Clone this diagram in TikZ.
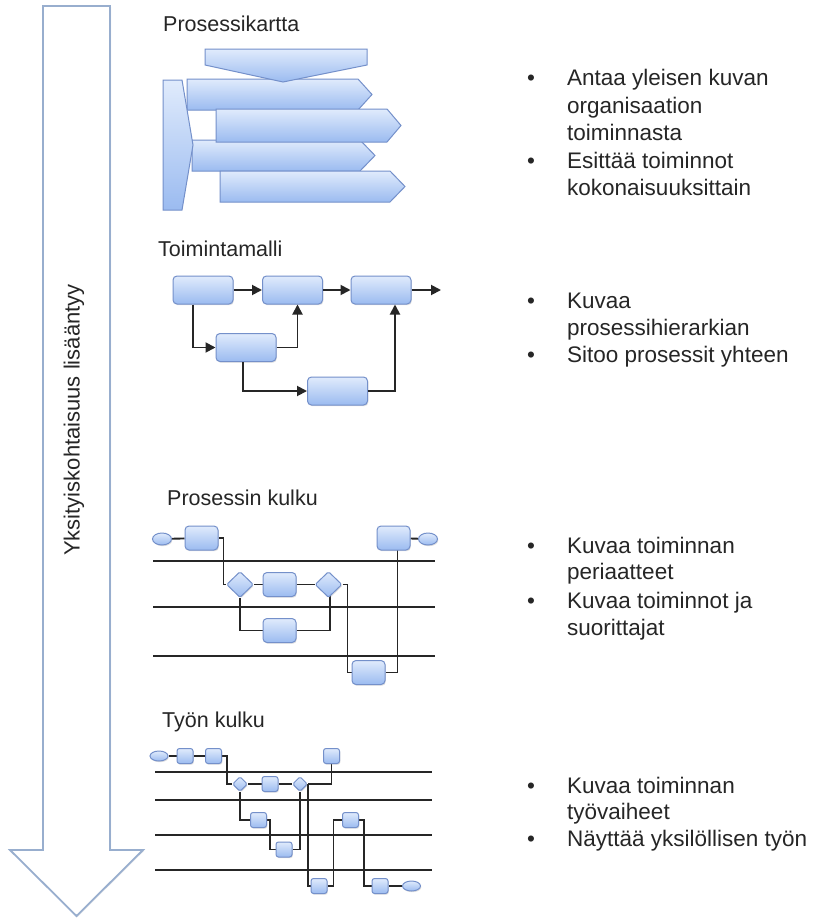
\documentclass[tikz,border=0pt]{standalone}
\usepackage{fontspec}
\setmainfont{Liberation Sans}
\usetikzlibrary{arrows.meta,positioning,shapes.geometric,backgrounds,shadows}
\definecolor{boxtop}{RGB}{224,235,252}
\definecolor{boxbot}{RGB}{155,187,240}
\definecolor{boxline}{RGB}{116,144,202}
\definecolor{arrline}{RGB}{152,174,206}
\definecolor{txt}{RGB}{38,38,38}

\begin{document}
\begin{tikzpicture}[x=1pt,y=-1pt,>={Triangle[length=10pt,width=10pt]}, every node/.style={font=\fontsize{22.5}{27}\selectfont,text=txt}]
\tikzstyle{box}=[draw=boxline,line width=1pt,top color=boxtop,bottom color=boxbot,rounded corners=4pt,inner sep=0pt,drop shadow={opacity=0.25,shadow xshift=0.8pt,shadow yshift=-1.2pt}]
\tikzstyle{bigbox}=[box,minimum width=60,minimum height=28]
\tikzstyle{midbox}=[box,minimum width=33,minimum height=24]
\tikzstyle{smallbox}=[box,rounded corners=2.5pt,minimum width=16,minimum height=15]
\tikzstyle{gate}=[box,diamond,rounded corners=1.5pt,minimum width=27,minimum height=26]
\tikzstyle{smallgate}=[gate,minimum width=15,minimum height=15]
\tikzstyle{term}=[box,ellipse,minimum width=19,minimum height=12]
\tikzstyle{smallterm}=[term,minimum width=18,minimum height=10]
\tikzstyle{tile}=[draw=boxline,line width=1pt,top color=boxtop,bottom color=boxbot]
\tikzstyle{wire}=[draw=black!85,line width=1.9pt]
\tikzstyle{lane}=[draw=black!85,line width=1.7pt]
\tikzstyle{title}=[anchor=base west,inner sep=0pt,font=\fontsize{21.5}{26}\selectfont]
\tikzstyle{bul}=[anchor=base west,inner sep=0pt]
\tikzstyle{bulletdot}=[anchor=base,inner sep=0pt]

\begin{scope}[on background layer]
\fill[white] (0,0) rectangle (821,918);
\end{scope}
\useasboundingbox (0,0) rectangle (821,918);

% arrow on the left
\draw[draw=arrline,line width=1.8pt,fill=white,drop shadow={opacity=0.15,shadow xshift=1pt,shadow yshift=-1pt}]
  (43,6) -- (110,6) -- (110,850) -- (143,850) -- (76.5,916) -- (10,850) -- (43,850) -- cycle;
\node[rotate=90,font=\fontsize{22}{26}\selectfont] (lbl) at (74,420) {Yksityiskohtaisuus lisääntyy};

% Prosessikartta
\node[title] (t1) at (163,31) {Prosessikartta};
\path[tile] (187,79) -- (358,79) -- (372,94.5) -- (358,110) -- (187,110) -- cycle;
\path[tile] (192,140) -- (360,140) -- (375,155.5) -- (360,171) -- (192,171) -- cycle;
\path[tile] (216,109) -- (387,109) -- (401,125.5) -- (387,142) -- (216,142) -- cycle;
\path[tile] (220,171) -- (390,171) -- (405,186.5) -- (390,202) -- (220,202) -- cycle;
\path[tile] (163,80) -- (182,80) -- (193,145) -- (182,210) -- (163,210) -- cycle;
\path[tile] (205,49) -- (367,49) -- (367,65) -- (283,82) -- (205,65) -- cycle;

% Toimintamalli
\node[title] (t2) at (158,256) {Toimintamalli};
\node[bigbox] (a) at (203,290) {};
\node[bigbox] (b) at (292.5,290) {};
\node[bigbox] (c) at (381,290) {};
\node[bigbox] (d) at (246,347.5) {};
\node[bigbox] (e) at (337.5,391) {};
\coordinate (out) at (441,290);
\draw[wire,->] (a) -- (b);
\draw[wire,->] (b) -- (c);
\draw[wire,->] (c) -- (out);
\draw[wire,->] ([xshift=-10]a.south) |- (d);
\draw[wire,->] (d) -| ([xshift=5]b.south);
\draw[wire,->] ([xshift=-3]d.south) |- (e);
\draw[wire,->] (e) -| ([xshift=14]c.south);

% Prosessin kulku
\node[title] (t3) at (167,505) {Prosessin kulku};
\node[term] (ps) at (162,539) {};
\node[midbox] (p1) at (201.5,538) {};
\node[midbox] (p5) at (393.5,538) {};
\node[term] (pe) at (428,539) {};
\node[gate] (g1) at (240,584.5) {};
\node[midbox] (p2) at (279.5,584.5) {};
\node[gate] (g2) at (328.5,584.5) {};
\node[midbox] (p3) at (279.5,630.5) {};
\node[midbox] (p4) at (368.5,672.5) {};
\begin{scope}[on background layer]
\foreach \y in {561,607,656} \draw[lane] (153,\y) -- (435,\y);
\draw[wire] (ps) -- (p1);
\draw[wire] (p1.east) -- ++(5,0) |- (g1);
\draw[wire] (g1) -- (p2) -- (g2);
\draw[wire] (g1) |- (p3) -| ([xshift=1.5]g2.center);
\draw[wire] (g2.east) -- ++(5,0) |- (p4);
\draw[wire] (p4.east) -| ([xshift=4]p5.center);
\draw[wire] (p5) -- (pe);
\end{scope}

% Tyon kulku
\node[title] (t4) at (162,727) {Työn kulku};
\node[smallterm] (ws) at (159,756) {};
\node[smallbox] (w1) at (185,756) {};
\node[smallbox] (w2) at (213.5,756) {};
\node[smallgate] (h1) at (240,784) {};
\node[smallbox] (w3) at (270,784) {};
\node[smallgate] (h2) at (300,784) {};
\node[smallbox] (w9) at (331.5,756) {};
\node[smallbox] (w4) at (258.5,820) {};
\node[smallbox] (w5) at (284,849.5) {};
\node[smallbox] (w6) at (319,886) {};
\node[smallbox] (w7) at (350.5,820) {};
\node[smallbox] (w8) at (380,886) {};
\node[smallterm] (we) at (411.5,886) {};
\begin{scope}[on background layer]
\foreach \y in {772,800,835,870} \draw[lane] (155,\y) -- (432,\y);
\draw[wire] (ws) -- (w1) -- (w2);
\draw[wire] (w2.east) -- ++(5,0) |- (h1);
\draw[wire] (h1) -- (w3) -- (h2);
\draw[wire] (h2) -| (w9);
\draw[wire] (h1) |- (w4);
\draw[wire] (w4.east) -- ++(3,0) |- (w5);
\draw[wire] (w5) -| (h2);
\draw[wire] (h2.east) |- (w6);
\draw[wire] (w6.east) -- ++(6,0) |- (w7);
\draw[wire] (w7.east) -- ++(5,0) |- (w8);
\draw[wire] (w8) -- (we);
\end{scope}

% bullet texts
\foreach \y/\t in {85/Antaa yleisen kuvan, 113/organisaation, 140/toiminnasta, 168/Esittää toiminnot, 195/kokonaisuuksittain,
  308/Kuvaa, 335/prosessihierarkian, 362/Sitoo prosessit yhteen,
  553/Kuvaa toiminnan, 579/periaatteet, 608/Kuvaa toiminnot ja, 635/suorittajat,
  793/Kuvaa toiminnan, 819/työvaiheet, 846/Näyttää yksilöllisen työn}
  \node[bul] (r\y) at (567,\y) {\t};
\foreach \y in {85,168,308,362,553,608,793,846}
  \node[bulletdot] (o\y) at (531,\y) {\textbullet};
\end{tikzpicture}
\end{document}
